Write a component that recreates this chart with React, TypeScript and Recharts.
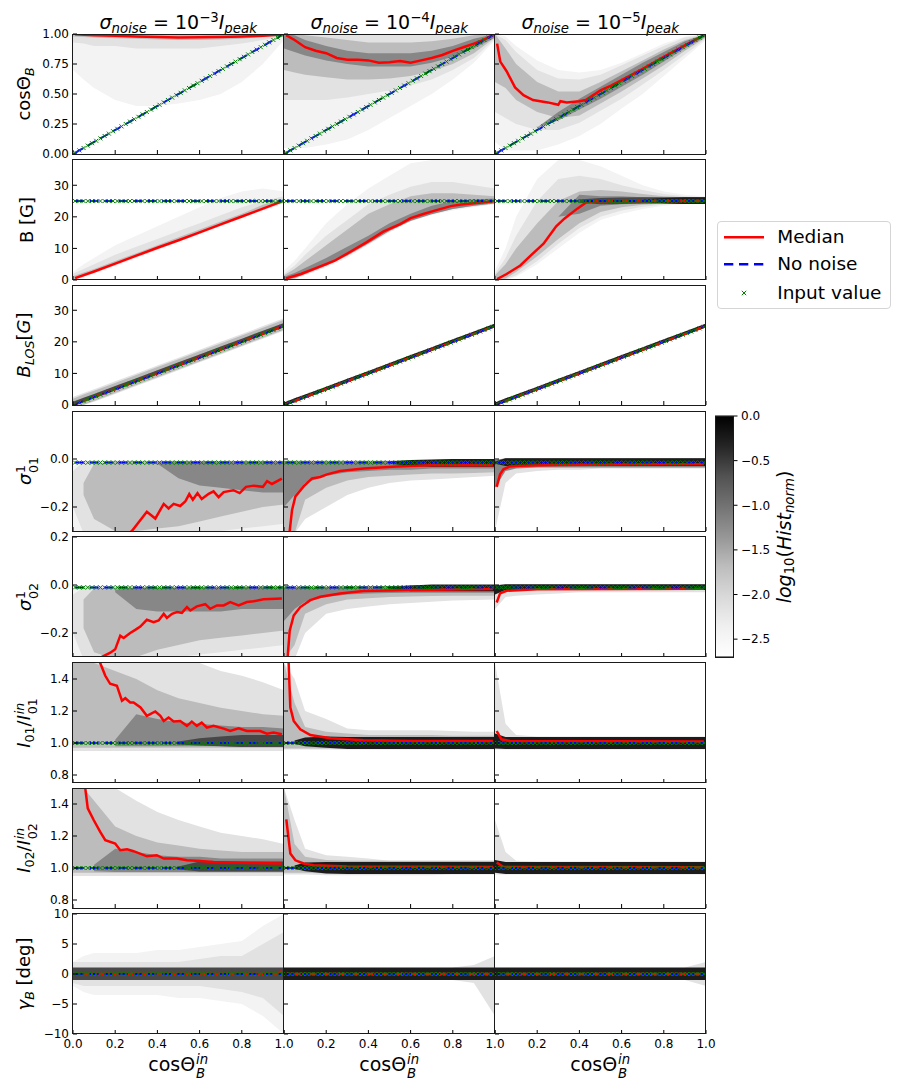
import React from 'react';
import { ComposedChart, Area, Line, Scatter, XAxis, YAxis } from 'recharts';

// ---- data ---------------------------------------------------------------

// bin centres of cosΘ_B^in (50 bins)
const cosIn = [
  0.01, 0.03, 0.05, 0.07, 0.09, 0.11, 0.13, 0.15, 0.17, 0.19,
  0.21, 0.23, 0.25, 0.27, 0.29, 0.31, 0.33, 0.35, 0.37, 0.39,
  0.41, 0.43, 0.45, 0.47, 0.49, 0.51, 0.53, 0.55, 0.57, 0.59,
  0.61, 0.63, 0.65, 0.67, 0.69, 0.71, 0.73, 0.75, 0.77, 0.79,
  0.81, 0.83, 0.85, 0.87, 0.89, 0.91, 0.93, 0.95, 0.97, 0.99,
];
// input B_LOS for each bin
const bLosIn = [
  0.25, 0.75, 1.25, 1.75, 2.25, 2.75, 3.25, 3.75, 4.25, 4.75,
  5.25, 5.75, 6.25, 6.75, 7.25, 7.75, 8.25, 8.75, 9.25, 9.75,
  10.25, 10.75, 11.25, 11.75, 12.25, 12.75, 13.25, 13.75, 14.25, 14.75,
  15.25, 15.75, 16.25, 16.75, 17.25, 17.75, 18.25, 18.75, 19.25, 19.75,
  20.25, 20.75, 21.25, 21.75, 22.25, 22.75, 23.25, 23.75, 24.25, 24.75,
];
const bIn = 25;
const sig01In = -0.015;
const sig02In = -0.01;
const i01In = 1.0;
const i02In = 1.0;
const gammaIn = 0;

// x positions where the histogram envelopes are read
const xGrid = [0, 0.05, 0.1, 0.2, 0.3, 0.4, 0.5, 0.6, 0.7, 0.8, 0.9, 1.0];
const N = null;

// medians [x, y]
const medCos3 = [[0.01, 0.998], [0.1, 0.99], [0.2, 0.985], [0.3, 0.98], [0.4, 0.975], [0.5, 0.97], [0.6, 0.972], [0.7, 0.975], [0.8, 0.98], [0.9, 0.985], [0.99, 0.995]];
const medCos4 = [[0.01, 0.99], [0.05, 0.95], [0.1, 0.89], [0.15, 0.86], [0.2, 0.84], [0.25, 0.8], [0.3, 0.785], [0.35, 0.785], [0.4, 0.78], [0.45, 0.76], [0.5, 0.765], [0.55, 0.775], [0.6, 0.76], [0.65, 0.78], [0.7, 0.8], [0.75, 0.825], [0.8, 0.86], [0.85, 0.89], [0.9, 0.92], [0.95, 0.955], [0.99, 0.99]];
const medCos5 = [[0.01, 0.92], [0.025, 0.77], [0.055, 0.69], [0.095, 0.555], [0.135, 0.49], [0.18, 0.45], [0.25, 0.43], [0.3, 0.41], [0.31, 0.44], [0.34, 0.43], [0.4, 0.44], [0.43, 0.45], [0.5, 0.53], [0.55, 0.57], [0.6, 0.615], [0.7, 0.71], [0.8, 0.81], [0.9, 0.905], [0.99, 0.99]];
const medB3 = [[0.01, 0.6], [0.1, 2.7], [0.2, 5.2], [0.3, 7.7], [0.4, 10.2], [0.5, 12.6], [0.6, 15.1], [0.7, 17.6], [0.8, 20.1], [0.9, 22.6], [0.99, 24.9]];
const medB4 = [[0.01, 0.5], [0.08, 1.9], [0.16, 4.0], [0.24, 6.1], [0.31, 8.8], [0.39, 11.9], [0.47, 15.3], [0.55, 17.7], [0.6, 19.6], [0.66, 20.9], [0.71, 21.9], [0.79, 23.4], [0.84, 23.9], [0.9, 24.3], [0.95, 24.6], [0.99, 24.9]];
const medB5 = [[0.01, 0.3], [0.055, 1.9], [0.12, 4.6], [0.17, 7.8], [0.23, 11.5], [0.29, 17.0], [0.33, 19.5], [0.39, 22.6], [0.43, 24.5], [0.47, 24.9], [0.6, 25.0], [0.8, 25.0], [0.99, 25.0]];
const medBlos3 = [[0.01, 0.3], [0.5, 12.6], [0.99, 24.8]];
const medBlos4 = [[0.01, 0.25], [0.5, 12.5], [0.99, 24.75]];
const medBlos5 = [[0.01, 0.25], [0.5, 12.5], [0.99, 24.75]];
const medSig01_3 = [[0.2, -0.36], [0.28, -0.299], [0.35, -0.22], [0.39, -0.248], [0.43, -0.187], [0.453, -0.206], [0.477, -0.187], [0.508, -0.196], [0.532, -0.177], [0.551, -0.146], [0.568, -0.17], [0.59, -0.142], [0.61, -0.167], [0.643, -0.145], [0.666, -0.135], [0.69, -0.159], [0.714, -0.138], [0.76, -0.13], [0.79, -0.142], [0.82, -0.116], [0.856, -0.111], [0.9, -0.116], [0.92, -0.092], [0.943, -0.104], [0.99, -0.082]];
const medSig01_4 = [[0.012, -0.45], [0.027, -0.3], [0.038, -0.213], [0.054, -0.156], [0.093, -0.114], [0.133, -0.081], [0.172, -0.075], [0.204, -0.064], [0.266, -0.05], [0.377, -0.04], [0.535, -0.031], [0.69, -0.026], [0.99, -0.026]];
const medSig01_5 = [[0.008, -0.116], [0.024, -0.064], [0.04, -0.043], [0.07, -0.031], [0.118, -0.028], [0.3, -0.025], [0.6, -0.023], [0.99, -0.022]];
const medSig02_3 = [[0.08, -0.36], [0.129, -0.303], [0.177, -0.282], [0.2, -0.268], [0.224, -0.211], [0.24, -0.221], [0.271, -0.2], [0.295, -0.187], [0.319, -0.173], [0.35, -0.145], [0.382, -0.155], [0.406, -0.148], [0.43, -0.12], [0.445, -0.137], [0.469, -0.12], [0.493, -0.113], [0.516, -0.116], [0.54, -0.092], [0.556, -0.106], [0.587, -0.089], [0.627, -0.08], [0.65, -0.099], [0.682, -0.085], [0.714, -0.085], [0.745, -0.071], [0.785, -0.085], [0.824, -0.071], [0.856, -0.068], [0.903, -0.059], [0.99, -0.056]];
const medSig02_4 = [[0.012, -0.45], [0.017, -0.303], [0.027, -0.19], [0.046, -0.127], [0.077, -0.092], [0.125, -0.063], [0.172, -0.049], [0.266, -0.035], [0.377, -0.025], [0.614, -0.021], [0.99, -0.017]];
const medSig02_5 = [[0.008, -0.073], [0.024, -0.035], [0.055, -0.024], [0.2, -0.018], [0.99, -0.016]];
const medI01_3 = [[0.1, 1.65], [0.129, 1.5], [0.153, 1.42], [0.176, 1.37], [0.208, 1.358], [0.232, 1.264], [0.248, 1.28], [0.271, 1.253], [0.287, 1.253], [0.32, 1.222], [0.35, 1.17], [0.39, 1.197], [0.414, 1.17], [0.43, 1.138], [0.453, 1.159], [0.477, 1.134], [0.508, 1.138], [0.54, 1.107], [0.563, 1.134], [0.587, 1.107], [0.61, 1.128], [0.635, 1.096], [0.666, 1.107], [0.714, 1.09], [0.745, 1.075], [0.785, 1.092], [0.824, 1.075], [0.887, 1.075], [0.919, 1.058], [0.95, 1.065], [0.99, 1.055]];
const medI01_4 = [[0.015, 1.8], [0.022, 1.5], [0.03, 1.222], [0.046, 1.138], [0.077, 1.086], [0.125, 1.05], [0.22, 1.03], [0.377, 1.017], [0.614, 1.013], [0.99, 1.013]];
const medI01_5 = [[0.008, 1.075], [0.03, 1.023], [0.07, 1.013], [0.99, 1.01]];
const medI02_3 = [[0.04, 1.65], [0.058, 1.5], [0.07, 1.373], [0.098, 1.3], [0.129, 1.226], [0.153, 1.174], [0.2, 1.153], [0.224, 1.111], [0.256, 1.117], [0.287, 1.105], [0.35, 1.073], [0.397, 1.08], [0.43, 1.059], [0.493, 1.059], [0.54, 1.048], [0.603, 1.044], [0.666, 1.038], [0.76, 1.034], [0.84, 1.032], [0.99, 1.028]];
const medI02_4 = [[0.011, 1.304], [0.03, 1.09], [0.054, 1.048], [0.093, 1.028], [0.14, 1.017], [0.3, 1.01], [0.99, 1.006]];
const medI02_5 = [[0.008, 1.034], [0.04, 1.006], [0.99, 1.005]];
const medG3 = [[0.01, 0], [0.5, 0], [0.97, 0], [0.99, 0.5]];
const medG4 = [[0.01, 0], [0.5, 0], [0.99, 0]];
const medG5 = [[0.01, 0], [0.5, 0], [0.99, 0]];

// histogram envelopes [lo, hi] on xGrid, per grey level
const histCos3 = {
  faint: [[0.7, 1], [0.62, 1], [0.55, 1], [0.45, 1], [0.4, 1], [0.4, 1], [0.42, 1], [0.45, 1], [0.5, 1], [0.6, 1], [0.75, 1], [0.95, 1]],
  light: [[0.93, 1], [0.92, 1], [0.9, 1], [0.9, 1], [0.88, 1], [0.88, 1], [0.88, 1], [0.88, 1], [0.9, 1], [0.92, 1], [0.95, 1], [0.98, 1]],
  mid: [[0.98, 1], [0.975, 1], [0.97, 1], [0.965, 1], [0.96, 0.998], [0.955, 0.995], [0.95, 0.995], [0.95, 0.995], [0.955, 0.995], [0.96, 0.998], [0.975, 1], [0.99, 1]],
};
const histCos4 = {
  faint: [[0.05, 1], [0.05, 1], [0.05, 1], [0.08, 1], [0.12, 1], [0.2, 1], [0.3, 1], [0.4, 1], [0.5, 1], [0.62, 1], [0.76, 1], [0.95, 1]],
  light: [[0.45, 1], [0.45, 1], [0.45, 1], [0.45, 1], [0.47, 1], [0.5, 1], [0.53, 1], [0.57, 1], [0.62, 1], [0.7, 1], [0.8, 1], [0.96, 1]],
  mid: [[0.7, 1], [0.68, 1], [0.66, 0.99], [0.64, 0.97], [0.62, 0.95], [0.62, 0.93], [0.63, 0.93], [0.65, 0.93], [0.69, 0.94], [0.75, 0.96], [0.84, 0.99], [0.97, 1]],
  dark: [[0.88, 1], [0.85, 0.99], [0.82, 0.95], [0.78, 0.9], [0.75, 0.86], [0.73, 0.84], [0.73, 0.84], [0.73, 0.84], [0.76, 0.86], [0.81, 0.9], [0.88, 0.96], [0.97, 1]],
};
const histCos5 = {
  faint: [[0.1, 1], [0.03, 0.98], [0.03, 0.9], [0.03, 0.78], [0.08, 0.7], [0.15, 0.68], [0.25, 0.7], [0.38, 0.76], [0.5, 0.84], [0.65, 0.92], [0.8, 0.98], [0.95, 1]],
  light: [[0.35, 1], [0.3, 0.95], [0.25, 0.85], [0.2, 0.7], [0.2, 0.63], [0.26, 0.62], [0.36, 0.66], [0.46, 0.74], [0.58, 0.82], [0.7, 0.9], [0.83, 0.97], [0.96, 1]],
  mid: [[0.6, 1], [0.55, 0.88], [0.45, 0.75], [0.35, 0.6], [0.3, 0.52], [0.32, 0.52], [0.42, 0.6], [0.52, 0.69], [0.63, 0.78], [0.74, 0.87], [0.86, 0.95], [0.97, 1]],
  dark: [N, N, N, [0.22, 0.22], [0.28, 0.35], [0.37, 0.46], [0.46, 0.56], [0.56, 0.66], [0.66, 0.76], [0.77, 0.85], [0.88, 0.94], [0.98, 1]],
};
const histB3 = {
  faint: [[0, 2.5], [0.8, 5], [2, 7], [4.5, 11], [7, 14], [9.5, 17], [12, 20], [14.5, 23], [17, 26], [19.5, 28], [22, 29], [24.3, 28]],
  light: [[0, 2], [1, 3.5], [2.2, 5], [4.6, 8], [7.1, 10.5], [9.6, 13], [12.1, 15.5], [14.6, 18], [17.1, 20.5], [19.6, 23], [22.1, 25], [24.4, 26.5]],
  mid: [[0.2, 1.2], [1.2, 2.4], [2.5, 3.5], [5, 6], [7.5, 8.5], [10, 11], [12.5, 13.5], [15, 16], [17.5, 18.5], [20, 21], [22.5, 23.8], [24.6, 25.8]],
};
const histB4 = {
  faint: [[0, 3], [0.3, 6], [1.5, 10], [4, 18], [7, 24], [11, 29], [15, 33], [18.5, 37], [20.5, 38], [22, 38], [23, 38], [24, 38]],
  light: [[0, 2], [0.4, 4.5], [1.6, 8], [4.2, 14], [7.5, 19], [11.3, 24], [15.3, 27], [18.6, 29.5], [20.8, 31], [22.4, 31], [23.3, 30], [24.1, 29]],
  mid: [[0, 1.5], [0.5, 3.5], [1.8, 6], [4.5, 11], [7.7, 16], [11.5, 21], [15.5, 24], [18.8, 26.5], [21, 27.5], [22.6, 27.5], [23.5, 27], [24.2, 26.5]],
  dark: [[0, 1], [0.7, 2.2], [2, 3.8], [4.6, 7], [7.8, 10.5], [11.6, 14], [15.6, 18], [18.8, 21], [20.8, 23.5], [22.5, 25], [23.5, 25.5], [24.3, 25.8]],
};
const histB5 = {
  faint: [[0, 3], [0, 10], [1, 20], [5, 32], [10, 38], [15, 38], [19, 36], [21, 33], [22.5, 30], [23.5, 28], [24, 27], [24.3, 26.5]],
  light: [[0, 2], [0.2, 7], [1.5, 14], [6, 25], [11.5, 32], [16.5, 33], [20, 32], [22, 30], [23.2, 28.5], [23.9, 27.2], [24.2, 26.5], [24.4, 26.2]],
  mid: [[0, 1.5], [0.5, 5], [2.5, 10], [7.5, 18], [13, 25], [18, 28], [21.5, 28.5], [23, 28], [23.8, 27.2], [24.2, 26.5], [24.4, 26.2], [24.5, 26]],
  dark: [N, N, N, N, [20, 20], [21, 27], [23.5, 26.5], [24, 26.5], [24.2, 26.2], [24.3, 26], [24.4, 26], [24.4, 26]],
  deep: [N, N, N, N, N, [24.5, 25.5], [24, 26], [24.1, 26.1], [24.2, 26.2], [24.2, 26.2], [24.1, 26.2], [24.1, 26.2]],
  core: [N, N, N, N, N, N, N, N, [24.8, 25.5], [24.3, 26], [24.1, 26.2], [24.1, 26.2]],
};
const histBlos3 = {
  light: [[0, 2.5], [0, 3.8], [1, 5], [3.5, 7.5], [6, 10], [8.5, 12.5], [11, 15], [13.5, 17.5], [16, 20], [18.5, 22.5], [21, 25], [23.5, 27.5]],
  mid: [[0, 2], [0.1, 3.3], [1.3, 4.5], [3.8, 7], [6.3, 9.5], [8.8, 12], [11.3, 14.5], [13.8, 17], [16.3, 19.5], [18.8, 22], [21.3, 24.5], [23.8, 27]],
  deep: [[0, 1], [1, 2.3], [2.2, 3.5], [4.7, 6], [7.2, 8.5], [9.7, 11], [12.2, 13.5], [14.7, 16], [17.2, 18.5], [19.7, 21], [22.2, 23.5], [24.7, 26]],
};
const histBlos4 = {
  core: [[0, 0.8], [0.9, 2.1], [2.1, 3.3], [4.6, 5.8], [7.1, 8.3], [9.6, 10.8], [12.1, 13.3], [14.6, 15.8], [17.1, 18.3], [19.6, 20.8], [22.1, 23.3], [24.6, 25.8]],
};
const histBlos5 = {
  core: [[0, 0.8], [0.9, 2.1], [2.1, 3.3], [4.6, 5.8], [7.1, 8.3], [9.6, 10.8], [12.1, 13.3], [14.6, 15.8], [17.1, 18.3], [19.6, 20.8], [22.1, 23.3], [24.6, 25.8]],
};
const histS01_3 = {
  faint: [[-0.31, -0.03], [-0.31, -0.01], [-0.31, -0.005], [-0.31, -0.005], [-0.31, -0.005], [-0.31, -0.005], [-0.31, -0.005], [-0.31, -0.005], [-0.31, -0.005], [-0.31, -0.005], [-0.31, -0.005], [-0.31, -0.005]],
  light: [[-0.2, -0.05], [-0.31, -0.01], [-0.31, -0.008], [-0.31, -0.008], [-0.31, -0.008], [-0.31, -0.008], [-0.31, -0.008], [-0.31, -0.008], [-0.3, -0.008], [-0.29, -0.008], [-0.28, -0.008], [-0.27, -0.008]],
  mid: [N, [-0.15, -0.1], [-0.25, -0.02], [-0.3, -0.01], [-0.3, -0.01], [-0.29, -0.01], [-0.28, -0.01], [-0.26, -0.01], [-0.24, -0.01], [-0.22, -0.01], [-0.2, -0.01], [-0.19, -0.01]],
  dark: [N, N, N, N, N, [-0.02, -0.01], [-0.08, -0.01], [-0.11, -0.01], [-0.12, -0.01], [-0.13, -0.01], [-0.14, -0.01], [-0.14, -0.01]],
};
const histS01_4 = {
  light: [[-0.31, -0.005], [-0.31, -0.005], [-0.25, -0.005], [-0.2, -0.005], [-0.15, -0.005], [-0.12, -0.005], [-0.1, -0.005], [-0.09, -0.005], [-0.085, -0.005], [-0.08, -0.005], [-0.075, -0.005], [-0.07, -0.005]],
  mid: [[-0.31, -0.01], [-0.31, -0.01], [-0.17, -0.01], [-0.12, -0.01], [-0.09, -0.01], [-0.075, -0.01], [-0.07, -0.01], [-0.065, -0.01], [-0.06, -0.01], [-0.06, -0.01], [-0.058, -0.01], [-0.055, -0.01]],
  dark: [[-0.2, -0.01], [-0.15, -0.01], [-0.1, -0.01], [-0.07, -0.01], [-0.055, -0.01], [-0.05, -0.01], [-0.045, -0.008], [-0.045, -0.006], [-0.04, -0.004], [-0.04, -0.002], [-0.04, 0], [-0.04, 0]],
  core: [N, N, N, N, N, N, [-0.02, -0.01], [-0.028, -0.004], [-0.032, -0.002], [-0.032, 0], [-0.032, 0], [-0.032, 0]],
};
const histS01_5 = {
  light: [[-0.3, 0], [-0.1, 0], [-0.06, 0], [-0.05, 0.003], [-0.045, 0.004], [-0.045, 0.003], [-0.04, 0.003], [-0.04, 0.003], [-0.04, 0.003], [-0.04, 0.003], [-0.04, 0.003], [-0.04, 0.003]],
  dark: [[-0.12, -0.004], [-0.05, 0.003], [-0.04, 0.003], [-0.035, 0.003], [-0.035, 0.003], [-0.035, 0.003], [-0.035, 0.003], [-0.035, 0.003], [-0.035, 0.003], [-0.035, 0.003], [-0.035, 0.003], [-0.035, 0.003]],
  core: [[-0.02, -0.01], [-0.029, 0.003], [-0.029, 0.003], [-0.029, 0.003], [-0.029, 0.003], [-0.029, 0.003], [-0.029, 0.003], [-0.029, 0.003], [-0.029, 0.003], [-0.029, 0.003], [-0.029, 0.003], [-0.029, 0.003]],
};
const histS02_3 = {
  faint: [[-0.31, -0.02], [-0.31, -0.005], [-0.31, -0.005], [-0.31, -0.005], [-0.31, -0.005], [-0.31, -0.005], [-0.31, -0.005], [-0.31, -0.005], [-0.31, -0.005], [-0.31, -0.005], [-0.31, -0.005], [-0.31, -0.005]],
  light: [[-0.2, -0.04], [-0.31, -0.01], [-0.31, -0.008], [-0.31, -0.008], [-0.31, -0.008], [-0.31, -0.008], [-0.3, -0.008], [-0.29, -0.008], [-0.28, -0.008], [-0.27, -0.008], [-0.26, -0.008], [-0.25, -0.008]],
  mid: [N, [-0.18, -0.06], [-0.28, -0.015], [-0.31, -0.01], [-0.3, -0.01], [-0.27, -0.01], [-0.25, -0.01], [-0.23, -0.01], [-0.22, -0.01], [-0.21, -0.01], [-0.2, -0.01], [-0.19, -0.01]],
  dark: [N, N, N, [-0.03, -0.02], [-0.1, -0.01], [-0.11, -0.01], [-0.11, -0.01], [-0.11, -0.008], [-0.11, -0.008], [-0.1, -0.008], [-0.1, -0.006], [-0.1, -0.006]],
};
const histS02_4 = {
  light: [[-0.31, -0.005], [-0.31, -0.005], [-0.2, -0.005], [-0.12, -0.005], [-0.1, -0.004], [-0.09, -0.004], [-0.08, -0.004], [-0.075, -0.004], [-0.07, -0.004], [-0.065, -0.004], [-0.062, -0.004], [-0.06, -0.004]],
  mid: [[-0.31, -0.008], [-0.25, -0.008], [-0.12, -0.008], [-0.08, -0.008], [-0.06, -0.008], [-0.055, -0.008], [-0.05, -0.008], [-0.048, -0.006], [-0.046, -0.006], [-0.045, -0.005], [-0.045, -0.005], [-0.045, -0.005]],
  dark: [[-0.15, -0.008], [-0.1, -0.008], [-0.07, -0.008], [-0.05, -0.008], [-0.04, -0.006], [-0.035, -0.005], [-0.033, -0.004], [-0.032, -0.002], [-0.032, 0], [-0.032, 0], [-0.032, 0], [-0.032, 0]],
  core: [N, N, N, N, N, N, [-0.015, -0.008], [-0.026, -0.002], [-0.026, 0.002], [-0.026, 0.002], [-0.026, 0.002], [-0.026, 0.002]],
};
const histS02_5 = {
  light: [[-0.1, 0.003], [-0.05, 0.003], [-0.045, 0.003], [-0.04, 0.003], [-0.035, 0.003], [-0.03, 0.003], [-0.03, 0.003], [-0.03, 0.003], [-0.03, 0.003], [-0.03, 0.003], [-0.03, 0.003], [-0.03, 0.003]],
  core: [[-0.04, -0.002], [-0.021, 0.003], [-0.021, 0.003], [-0.021, 0.003], [-0.021, 0.003], [-0.021, 0.003], [-0.021, 0.003], [-0.021, 0.003], [-0.021, 0.003], [-0.021, 0.003], [-0.021, 0.003], [-0.021, 0.003]],
};
const histI01_3 = {
  light: [[0.95, 1.5], [0.95, 1.5], [0.95, 1.5], [0.95, 1.5], [0.95, 1.5], [0.95, 1.5], [0.95, 1.5], [0.95, 1.5], [0.95, 1.45], [0.95, 1.42], [0.95, 1.38], [0.95, 1.33]],
  mid: [[0.97, 1.5], [0.97, 1.5], [0.97, 1.5], [0.97, 1.45], [0.97, 1.4], [0.97, 1.33], [0.97, 1.28], [0.97, 1.25], [0.97, 1.22], [0.97, 1.2], [0.97, 1.18], [0.97, 1.17]],
  dark: [N, N, N, [0.98, 1.02], [0.98, 1.18], [0.98, 1.15], [0.98, 1.13], [0.98, 1.12], [0.98, 1.11], [0.975, 1.1], [0.975, 1.1], [0.975, 1.09]],
  deep: [N, N, N, N, N, N, [0.99, 1.01], [0.985, 1.03], [0.98, 1.04], [0.975, 1.05], [0.975, 1.05], [0.975, 1.05]],
};
const histI01_4 = {
  light: [[0.96, 1.5], [0.96, 1.4], [0.96, 1.2], [0.96, 1.15], [0.96, 1.09], [0.96, 1.08], [0.96, 1.08], [0.96, 1.08], [0.96, 1.08], [0.96, 1.075], [0.96, 1.07], [0.96, 1.07]],
  mid: [[0.965, 1.5], [0.965, 1.25], [0.965, 1.1], [0.965, 1.07], [0.965, 1.06], [0.965, 1.05], [0.965, 1.05], [0.965, 1.05], [0.965, 1.05], [0.965, 1.045], [0.965, 1.045], [0.965, 1.045]],
  core: [N, [0.995, 1.015], [0.98, 1.035], [0.97, 1.04], [0.962, 1.038], [0.962, 1.038], [0.962, 1.038], [0.962, 1.038], [0.962, 1.038], [0.962, 1.038], [0.962, 1.038], [0.962, 1.038]],
};
const histI01_5 = {
  light: [[0.96, 1.5], [0.96, 1.12], [0.96, 1.05], [0.96, 1.04], [0.96, 1.04], [0.96, 1.04], [0.96, 1.04], [0.96, 1.04], [0.96, 1.04], [0.96, 1.04], [0.96, 1.04], [0.96, 1.04]],
  core: [[0.965, 1.06], [0.962, 1.038], [0.962, 1.038], [0.962, 1.038], [0.962, 1.038], [0.962, 1.038], [0.962, 1.038], [0.962, 1.038], [0.962, 1.038], [0.962, 1.038], [0.962, 1.038], [0.962, 1.038]],
};
const histI02_3 = {
  light: [[0.95, 1.5], [0.95, 1.5], [0.95, 1.5], [0.95, 1.5], [0.95, 1.42], [0.95, 1.35], [0.95, 1.3], [0.95, 1.26], [0.95, 1.22], [0.95, 1.2], [0.95, 1.18], [0.95, 1.15]],
  mid: [[0.97, 1.5], [0.97, 1.5], [0.97, 1.42], [0.97, 1.26], [0.97, 1.2], [0.97, 1.16], [0.97, 1.14], [0.97, 1.12], [0.97, 1.11], [0.97, 1.1], [0.97, 1.1], [0.97, 1.1]],
  dark: [N, N, [0.98, 1.02], [0.975, 1.12], [0.975, 1.1], [0.975, 1.08], [0.975, 1.07], [0.975, 1.07], [0.975, 1.06], [0.975, 1.06], [0.975, 1.06], [0.975, 1.06]],
  deep: [N, N, N, N, N, N, [0.99, 1.01], [0.978, 1.04], [0.978, 1.04], [0.978, 1.04], [0.978, 1.04], [0.978, 1.04]],
};
const histI02_4 = {
  light: [[0.96, 1.5], [0.96, 1.3], [0.96, 1.12], [0.955, 1.08], [0.955, 1.07], [0.955, 1.06], [0.955, 1.045], [0.955, 1.045], [0.955, 1.045], [0.96, 1.045], [0.96, 1.045], [0.96, 1.045]],
  mid: [[0.97, 1.5], [0.97, 1.15], [0.97, 1.07], [0.965, 1.05], [0.965, 1.045], [0.965, 1.045], [0.965, 1.045], [0.965, 1.045], [0.965, 1.045], [0.965, 1.045], [0.965, 1.045], [0.965, 1.045]],
  core: [N, [0.995, 1.015], [0.98, 1.035], [0.965, 1.038], [0.962, 1.038], [0.962, 1.038], [0.962, 1.038], [0.962, 1.038], [0.962, 1.038], [0.962, 1.038], [0.962, 1.038], [0.962, 1.038]],
};
const histI02_5 = {
  light: [[0.96, 1.3], [0.96, 1.1], [0.96, 1.045], [0.96, 1.04], [0.96, 1.04], [0.96, 1.04], [0.96, 1.04], [0.96, 1.04], [0.96, 1.04], [0.96, 1.04], [0.96, 1.04], [0.96, 1.04]],
  core: [[0.97, 1.05], [0.962, 1.038], [0.962, 1.038], [0.962, 1.038], [0.962, 1.038], [0.962, 1.038], [0.962, 1.038], [0.962, 1.038], [0.962, 1.038], [0.962, 1.038], [0.962, 1.038], [0.962, 1.038]],
};
const histG3 = {
  faint: [[-2, 2], [-3, 3], [-3.5, 3.5], [-3.5, 3.5], [-3.5, 3.5], [-3.5, 4], [-4, 4], [-4, 4.5], [-4.5, 5], [-5, 5.5], [-7, 8], [-10, 10]],
  light: [[-1.5, 2], [-2, 2], [-2, 2], [-2, 2], [-2, 2], [-2, 2], [-2, 2], [-2, 2.5], [-2.5, 3], [-3, 3], [-4, 5], [-7, 7]],
  deep: [[-1, 1.1], [-1, 1.1], [-1, 1.1], [-1, 1.1], [-1, 1.1], [-1, 1.1], [-1, 1.1], [-1, 1.1], [-1, 1.1], [-1, 1.1], [-1, 1.1], [-1, 1.1]],
};
const histG4 = {
  light: [N, N, N, N, N, N, N, N, N, [-1, 1.1], [-1.5, 1.5], [-7, 3]],
  core: [[-1, 1.1], [-1, 1.1], [-1, 1.1], [-1, 1.1], [-1, 1.1], [-1, 1.1], [-1, 1.1], [-1, 1.1], [-1, 1.1], [-1, 1.1], [-1, 1.1], [-1, 1.1]],
};
const histG5 = {
  light: [N, N, N, N, N, N, N, N, N, N, [-1, 1.1], [-2, 2]],
  core: [[-1, 1.1], [-1, 1.1], [-1, 1.1], [-1, 1.1], [-1, 1.1], [-1, 1.1], [-1, 1.1], [-1, 1.1], [-1, 1.1], [-1, 1.1], [-1, 1.1], [-1, 1.1]],
};

const xTicks = [0, 0.2, 0.4, 0.6, 0.8, 1.0];
const cbRange = [-2.7, 0];
const cbTicks = [0, -0.5, -1, -1.5, -2, -2.5];

// ---- layout / style ----------------------------------------------------

const FONT = '"DejaVu Sans", Verdana, sans-serif';
const YAW = 40;
const MT = 12;
const MR = 14;
const XAH = 22;
const PW = 211;
const PH = 120;
const COL_X = [72.7, 283.7, 494.7];
const ROW_Y = [34, 159.7, 285.4, 411.1, 536.8, 662.5, 788.2, 913.9];
const LEVELS = ['faint', 'light', 'mid', 'dark', 'deep', 'core'];
const FILL: Record<string, string> = {
  faint: '#f3f3f3',
  light: '#e2e2e2',
  mid: '#bcbcbc',
  dark: '#878787',
  deep: '#474747',
  core: '#1c1c1c',
};
const GREYS = ['#000000', '#252525', '#525252', '#737373', '#969696', '#bdbdbd', '#d9d9d9', '#f0f0f0', '#ffffff'];

const minus = (s: string) => s.replace('-', '\u2212');

const Sub = ({ children, it }: any) => (
  <span style={{ fontSize: '0.7em', verticalAlign: '-0.25em', fontStyle: it ? 'italic' : 'normal' }}>{children}</span>
);
const Sup = ({ children }: any) => (
  <span style={{ fontSize: '0.7em', verticalAlign: '0.55em' }}>{children}</span>
);
const SupSub = ({ sup, sub }: any) => (
  <span style={{ display: 'inline-flex', flexDirection: 'column', verticalAlign: '0.35em', lineHeight: '0.72em', marginLeft: '0.04em' }}>
    <span style={{ fontSize: '0.7em' }}>{sup}</span>
    <span style={{ fontSize: '0.7em' }}>{sub}</span>
  </span>
);

const rowSpecs = [
  { domain: [0, 1], ticks: [0, 0.25, 0.5, 0.75, 1], fmt: (v: number) => v.toFixed(2), input: cosIn,
    label: <>cosΘ<Sub it>B</Sub></> },
  { domain: [0, 38], ticks: [0, 10, 20, 30], fmt: (v: number) => String(v), input: cosIn.map(() => bIn),
    label: <>B [G]</> },
  { domain: [0, 38], ticks: [0, 10, 20, 30], fmt: (v: number) => String(v), input: bLosIn,
    label: <><i>B</i><Sub it>LOS</Sub>[<i>G</i>]</> },
  { domain: [-0.3, 0.2], ticks: [-0.2, 0], fmt: (v: number) => minus(v.toFixed(1)), input: cosIn.map(() => sig01In),
    label: <><i>σ</i><SupSub sup="1" sub="01" /></> },
  { domain: [-0.3, 0.2], ticks: [-0.2, 0, 0.2], fmt: (v: number) => minus(v.toFixed(1)), input: cosIn.map(() => sig02In),
    label: <><i>σ</i><SupSub sup="1" sub="02" /></> },
  { domain: [0.75, 1.5], ticks: [0.8, 1.0, 1.2, 1.4], fmt: (v: number) => v.toFixed(1), input: cosIn.map(() => i01In),
    label: <><i>I</i><Sub>01</Sub>/<i>I</i><SupSub sup={<i>in</i>} sub="01" /></> },
  { domain: [0.75, 1.5], ticks: [0.8, 1.0, 1.2, 1.4], fmt: (v: number) => v.toFixed(1), input: cosIn.map(() => i02In),
    label: <><i>I</i><Sub>02</Sub>/<i>I</i><SupSub sup={<i>in</i>} sub="02" /></> },
  { domain: [-10, 10], ticks: [-10, -5, 0, 5, 10], fmt: (v: number) => minus(String(v)), input: cosIn.map(() => gammaIn),
    label: <><i>γ</i><Sub it>B</Sub> [deg]</> },
];

const histograms: any[][] = [
  [histCos3, histCos4, histCos5],
  [histB3, histB4, histB5],
  [histBlos3, histBlos4, histBlos5],
  [histS01_3, histS01_4, histS01_5],
  [histS02_3, histS02_4, histS02_5],
  [histI01_3, histI01_4, histI01_5],
  [histI02_3, histI02_4, histI02_5],
  [histG3, histG4, histG5],
];
const medians: number[][][][] = [
  [medCos3, medCos4, medCos5],
  [medB3, medB4, medB5],
  [medBlos3, medBlos4, medBlos5],
  [medSig01_3, medSig01_4, medSig01_5],
  [medSig02_3, medSig02_4, medSig02_5],
  [medI01_3, medI01_4, medI01_5],
  [medI02_3, medI02_4, medI02_5],
  [medG3, medG4, medG5],
];
const exponents = ['−3', '−4', '−5'];

// ---- pieces ------------------------------------------------------------

function XMark({ cx, cy, s = 2 }: any) {
  if (cx == null || cy == null) return null;
  return (
    <g>
      <line x1={cx - s} y1={cy - s} x2={cx + s} y2={cy + s} stroke="#008000" strokeWidth={1} />
      <line x1={cx - s} y1={cy + s} x2={cx + s} y2={cy - s} stroke="#008000" strokeWidth={1} />
    </g>
  );
}

function YTick({ y, payload, show, fmt }: any) {
  return (
    <g>
      <line x1={YAW} x2={YAW + 4} y1={y} y2={y} stroke="#000" strokeWidth={1} />
      {show && (
        <text x={YAW - 4} y={y} dy="0.36em" textAnchor="end" fontSize={12} fontFamily={FONT} fill="#000">
          {fmt(payload.value)}
        </text>
      )}
    </g>
  );
}

function XTick({ x, payload, show, col }: any) {
  const bottom = MT + PH;
  const v = payload.value;
  return (
    <g>
      <line x1={x} x2={x} y1={bottom} y2={bottom - 4} stroke="#000" strokeWidth={1} />
      {show && !(col > 0 && v === 0) && (
        <text x={x} y={bottom + 4} dy="0.8em" textAnchor="middle" fontSize={12} fontFamily={FONT} fill="#000">
          {v.toFixed(1)}
        </text>
      )}
    </g>
  );
}

function Panel({ row, col }: { row: number; col: number }) {
  const spec = rowSpecs[row];
  const hist = histograms[row][col];
  const levels = LEVELS.filter((l) => hist[l]);
  const table = xGrid.map((x, i) => {
    const rec: any = { x };
    levels.forEach((l) => { rec[l] = hist[l][i]; });
    return rec;
  });
  const median = medians[row][col].map(([x, y]) => ({ x, y }));
  const input = cosIn.map((x, i) => ({ x, y: spec.input[i] }));
  const last = row === rowSpecs.length - 1;

  return (
    <div style={{ position: 'absolute', left: COL_X[col] - YAW, top: ROW_Y[row] - MT }}>
      <ComposedChart
        width={YAW + PW + MR}
        height={MT + PH + XAH}
        data={table}
        margin={{ top: MT, right: MR, bottom: 0, left: 0 }}
      >
        <XAxis
          dataKey="x"
          type="number"
          domain={[0, 1]}
          ticks={xTicks}
          allowDataOverflow
          height={XAH}
          axisLine={false}
          tickLine={false}
          interval={0}
          tick={(p: any) => <XTick {...p} show={last} col={col} />}
        />
        <YAxis
          type="number"
          domain={spec.domain}
          ticks={spec.ticks}
          allowDataOverflow
          width={YAW}
          axisLine={false}
          tickLine={false}
          interval={0}
          tick={(p: any) => <YTick {...p} show={col === 0} fmt={spec.fmt} />}
        />
        {levels.map((l) => (
          <Area
            key={l}
            dataKey={l}
            type="linear"
            fill={FILL[l]}
            fillOpacity={1}
            stroke="none"
            dot={false}
            activeDot={false}
            isAnimationActive={false}
          />
        ))}
        <Line data={median} dataKey="y" type="linear" stroke="#ff0000" strokeWidth={2.5} dot={false} activeDot={false} isAnimationActive={false} />
        <Line data={input} dataKey="y" type="linear" stroke="#0000ff" strokeWidth={2} strokeDasharray="9 5.5" dot={false} activeDot={false} isAnimationActive={false} />
        <Scatter data={input} dataKey="y" shape={(p: any) => <XMark cx={p.cx} cy={p.cy} />} isAnimationActive={false} />
      </ComposedChart>
    </div>
  );
}

function CbTick({ y, payload }: any) {
  const w = 18;
  return (
    <g>
      <line x1={w} x2={w + 4.5} y1={y} y2={y} stroke="#000" strokeWidth={1} />
      <text x={w + 8} y={y} dy="0.36em" textAnchor="start" fontSize={12} fontFamily={FONT} fill="#000">
        {minus(payload.value.toFixed(1))}
      </text>
    </g>
  );
}

function Colorbar() {
  const data = [{ x: 0, v: cbRange }, { x: 1, v: cbRange }];
  return (
    <div style={{ position: 'absolute', left: 715.3, top: 406 }}>
      <ComposedChart width={18 + 46} height={251} data={data} margin={{ top: 10, right: 0, bottom: 0, left: 0 }}>
        <defs>
          <linearGradient id="greysGrad" x1="0" y1="0" x2="0" y2="1">
            {GREYS.map((c, i) => (
              <stop key={i} offset={i / (GREYS.length - 1)} stopColor={c} />
            ))}
          </linearGradient>
        </defs>
        <XAxis dataKey="x" type="number" domain={[0, 1]} hide />
        <YAxis
          orientation="right"
          type="number"
          domain={cbRange}
          ticks={cbTicks}
          width={46}
          axisLine={false}
          tickLine={false}
          interval={0}
          tick={(p: any) => <CbTick {...p} />}
        />
        <Area dataKey="v" type="linear" fill="url(#greysGrad)" fillOpacity={1} stroke="#000" strokeWidth={1} dot={false} activeDot={false} isAnimationActive={false} />
      </ComposedChart>
      <div style={{ position: 'absolute', left: -0.5, top: 9.5, width: 19, height: 242, border: '1px solid #1a1a1a', boxSizing: 'border-box' }} />
    </div>
  );
}

function Legend() {
  const rows = [15.3, 42.3, 71];
  return (
    <div
      style={{
        position: 'absolute', left: 716.7, top: 220.7, width: 174, height: 88.6,
        border: '1px solid #d5d5d5', borderRadius: 4, boxSizing: 'border-box', background: '#fff',
      }}
    >
      <svg width={60} height={86} style={{ position: 'absolute', left: 0, top: 0 }}>
        <line x1={6} x2={46} y1={rows[0]} y2={rows[0]} stroke="#ff0000" strokeWidth={2.5} />
        <line x1={6} x2={46} y1={rows[1]} y2={rows[1]} stroke="#0000ff" strokeWidth={2.5} strokeDasharray="9.3 5.7" />
        <XMark cx={26} cy={rows[2]} s={2.2} />
      </svg>
      {['Median', 'No noise', 'Input value'].map((t, i) => (
        <div
          key={t}
          style={{ position: 'absolute', left: 59.5, top: rows[i] - 12, lineHeight: '24px', fontSize: 18.5, whiteSpace: 'nowrap' }}
        >
          {t}
        </div>
      ))}
    </div>
  );
}

export default function App() {
  return (
    <div
      style={{
        position: 'absolute', left: 0, top: 0, width: 900, height: 1088, background: '#fff',
        fontFamily: FONT, color: '#000', overflow: 'hidden',
      }}
    >
      {COL_X.map((x, c) => (
        <div
          key={'t' + c}
          style={{ position: 'absolute', left: x + PW / 2, top: 5, transform: 'translateX(-50%)', fontSize: 19, lineHeight: '26px', whiteSpace: 'nowrap' }}
        >
          <i>σ</i><Sub it>noise</Sub> = 10<Sup>{exponents[c]}</Sup><i>I</i><Sub it>peak</Sub>
        </div>
      ))}

      {rowSpecs.map((s, r) => (
        <div
          key={'y' + r}
          style={{
            position: 'absolute', left: 27, top: ROW_Y[r] + PH / 2,
            transform: 'translate(-50%, -50%) rotate(-90deg)', fontSize: 18, lineHeight: '24px', whiteSpace: 'nowrap',
          }}
        >
          {s.label}
        </div>
      ))}

      {rowSpecs.map((_, r) => COL_X.map((__, c) => <Panel key={`p${r}-${c}`} row={r} col={c} />))}

      {rowSpecs.map((_, r) => COL_X.map((x, c) => (
        <div
          key={`f${r}-${c}`}
          style={{
            position: 'absolute', left: x - 0.5, top: ROW_Y[r] - 0.5, width: PW + 1, height: PH + 1,
            border: '1px solid #1a1a1a', boxSizing: 'border-box', pointerEvents: 'none',
          }}
        />
      )))}

      {COL_X.map((x, c) => (
        <div
          key={'x' + c}
          style={{ position: 'absolute', left: x + PW / 2, top: 1051, transform: 'translateX(-50%)', fontSize: 19, lineHeight: '26px', whiteSpace: 'nowrap' }}
        >
          cosΘ<SupSub sup={<i>in</i>} sub={<i>B</i>} />
        </div>
      ))}

      <Legend />
      <Colorbar />
      <div
        style={{
          position: 'absolute', left: 787, top: 537, transform: 'translate(-50%, -50%) rotate(-90deg)',
          fontSize: 19, lineHeight: '24px', whiteSpace: 'nowrap',
        }}
      >
        <i>log</i><Sub>10</Sub>(<i>Hist</i><Sub it>norm</Sub>)
      </div>
    </div>
  );
}
